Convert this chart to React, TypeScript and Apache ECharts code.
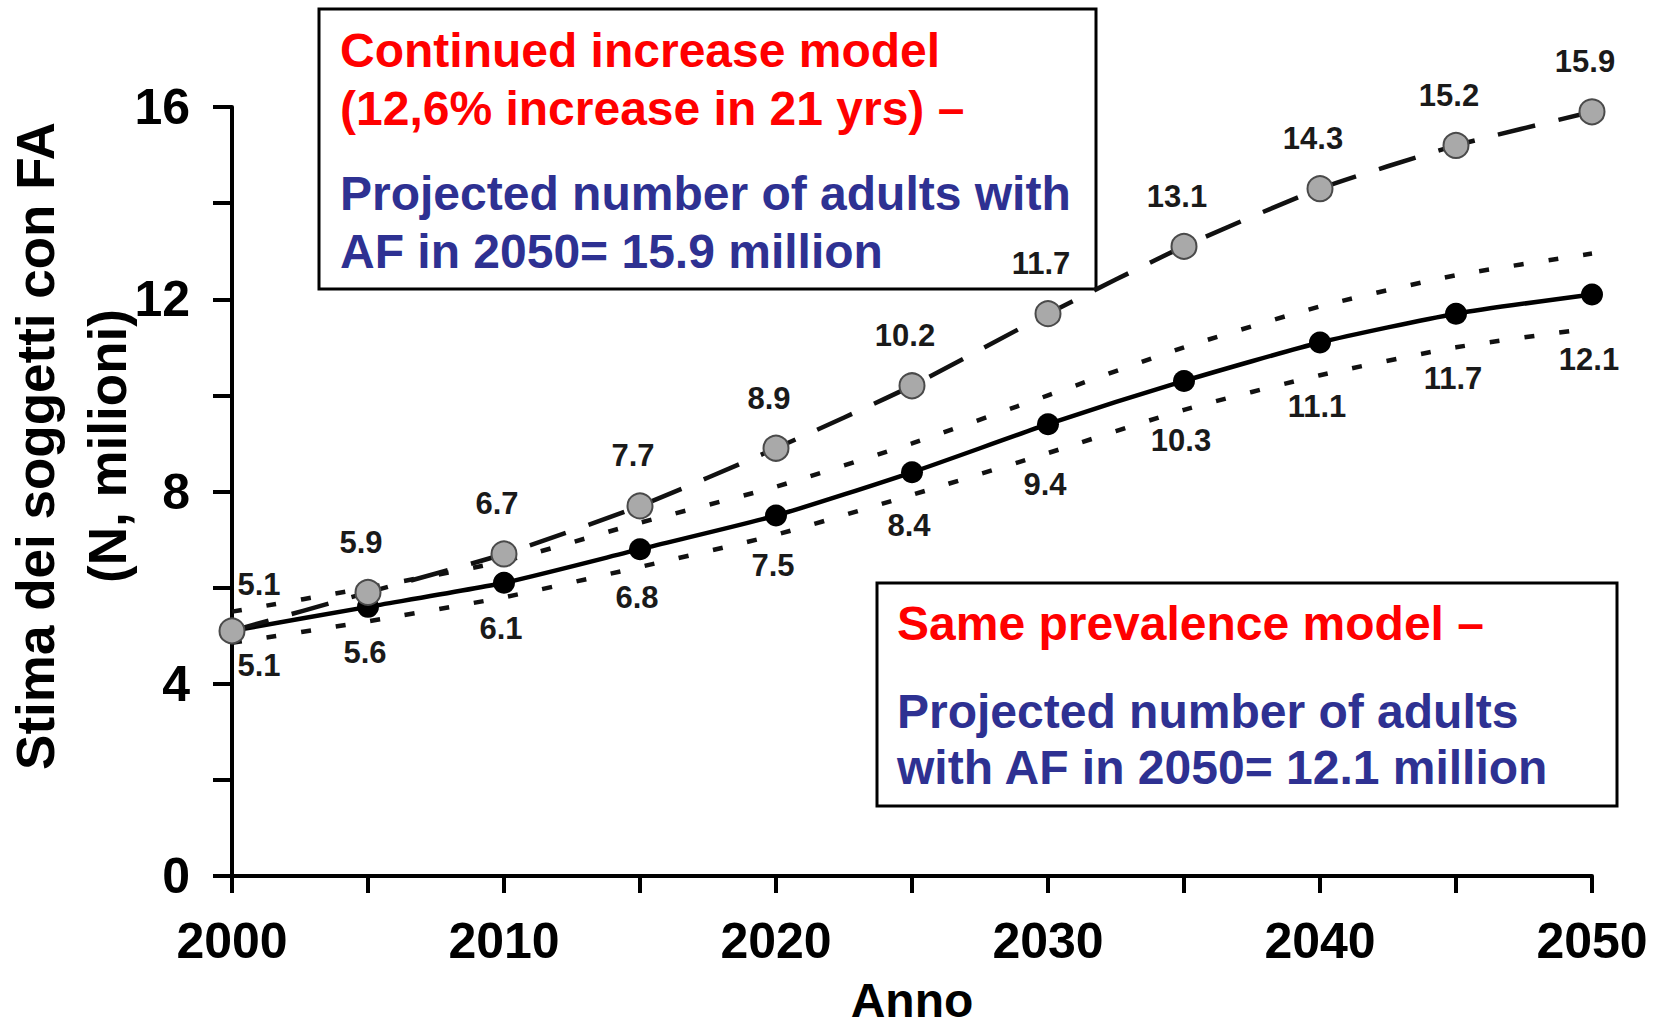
import React, { useEffect, useRef } from "react";
import * as echarts from "echarts";

const years = [2000, 2005, 2010, 2015, 2020, 2025, 2030, 2035, 2040, 2045, 2050];
const continuedIncrease = [5.1, 5.9, 6.7, 7.7, 8.9, 10.2, 11.7, 13.1, 14.3, 15.2, 15.9];
const samePrevalence = [5.1, 5.6, 6.1, 6.8, 7.5, 8.4, 9.4, 10.3, 11.1, 11.7, 12.1];
const upperBound = [5.5, 6.0, 6.55, 7.35, 8.1, 9.0, 10.0, 11.0, 11.85, 12.5, 12.95];
const lowerBound = [4.85, 5.3, 5.8, 6.43, 7.1, 7.93, 8.8, 9.7, 10.42, 11.0, 11.4];
const yTickLabels = [0, 4, 8, 12, 16];
const xTickLabels = [2000, 2010, 2020, 2030, 2040, 2050];

const box1Red = ["Continued increase model", "(12,6% increase in 21 yrs) \u2013"];
const box1Blue = ["Projected number of adults with", "AF in 2050= 15.9 million"];
const box2Red = ["Same prevalence model \u2013"];
const box2Blue = ["Projected number of adults", "with AF in 2050= 12.1 million"];

const FONT = '"Liberation Sans", Arial, sans-serif';
const RED = "#FF0000";
const BLUE = "#2E3192";

export default function App() {
  const ref = useRef<HTMLDivElement>(null);

  useEffect(() => {
    if (!ref.current) return;
    const chart = echarts.init(ref.current, undefined, { renderer: "svg" });

    const pairs = (arr: number[]) => years.map((y, i) => [y, arr[i]]);

    const textLine = (text: string, x: number, y: number, color: string) => ({
      type: "text",
      x,
      y,
      z: 1,
      style: {
        text,
        fill: color,
        font: `bold 48px ${FONT}`,
        align: "left",
        verticalAlign: "middle",
      },
    });

    const option: any = {
      animation: false,
      backgroundColor: "#ffffff",
      grid: {
        left: 232,
        right: 76,
        top: 107,
        bottom: 151,
        containLabel: false,
        outerBoundsMode: "none",
      },
      xAxis: {
        type: "value",
        min: 2000,
        max: 2050,
        interval: 5,
        name: "Anno",
        nameLocation: "middle",
        nameGap: 104,
        nameTextStyle: {
          fontFamily: FONT,
          fontWeight: "bold",
          fontSize: 48,
          lineHeight: 40,
          color: "#000",
        },
        axisLine: { show: true, lineStyle: { color: "#000", width: 4 } },
        axisTick: { show: true, length: 17, lineStyle: { color: "#000", width: 4 } },
        splitLine: { show: false },
        axisLabel: {
          margin: 40,
          fontFamily: FONT,
          fontWeight: "bold",
          fontSize: 50,
          color: "#000",
          formatter: (v: number) => (xTickLabels.includes(v) ? String(v) : ""),
        },
      },
      yAxis: {
        type: "value",
        min: 0,
        max: 16,
        interval: 2,
        axisLine: { show: true, lineStyle: { color: "#000", width: 4 } },
        axisTick: { show: true, length: 19, lineStyle: { color: "#000", width: 4 } },
        splitLine: { show: false },
        axisLabel: {
          margin: 42,
          fontFamily: FONT,
          fontWeight: "bold",
          fontSize: 50,
          color: "#000",
          formatter: (v: number) => (yTickLabels.includes(v) ? String(v) : ""),
        },
      },
      graphic: [
        {
          type: "text",
          x: 71,
          y: 446,
          rotation: Math.PI / 2,
          style: {
            text: "Stima dei soggetti con FA\n(N, milioni)",
            fill: "#000",
            font: `bold 53px ${FONT}`,
            align: "center",
            verticalAlign: "middle",
            lineHeight: 72,
          },
        },
        {
          type: "rect",
          z: 0,
          shape: { x: 319, y: 9, width: 777, height: 280 },
          style: { fill: "#fff", stroke: "#000", lineWidth: 3 },
        },
        {
          type: "rect",
          z: 0,
          shape: { x: 877, y: 583, width: 740, height: 223 },
          style: { fill: "#fff", stroke: "#000", lineWidth: 3 },
        },
        textLine(box1Red[0], 340, 50, RED),
        textLine(box1Red[1], 340, 108, RED),
        textLine(box1Blue[0], 340, 193, BLUE),
        textLine(box1Blue[1], 340, 251, BLUE),
        textLine(box2Red[0], 897, 623, RED),
        textLine(box2Blue[0], 897, 711, BLUE),
        textLine(box2Blue[1], 897, 767, BLUE),
      ],
      series: [
        {
          name: "Upper bound",
          type: "line",
          data: pairs(upperBound),
          smooth: 0.2,
          showSymbol: false,
          symbol: "none",
          lineStyle: { color: "#111", width: 4.5, type: [10, 25] },
          z: 2,
        },
        {
          name: "Lower bound",
          type: "line",
          data: pairs(lowerBound).map((d, i) =>
            i === 0 ? { value: d, label: { offset: [27, -8] } } : { value: d }
          ),
          smooth: 0.2,
          symbol: "circle",
          symbolSize: 1,
          itemStyle: { color: "rgba(0,0,0,0)" },
          lineStyle: { color: "#111", width: 4.5, type: [10, 25] },
          label: {
            show: true,
            position: "bottom",
            distance: 15,
            offset: [-3, 0],
            color: "#1a1a1a",
            fontFamily: FONT,
            fontWeight: "bold",
            fontSize: 31,
            formatter: (p: any) => samePrevalence[p.dataIndex].toFixed(1),
          },
          z: 2,
        },
        {
          name: "Same prevalence model",
          type: "line",
          data: pairs(samePrevalence),
          smooth: 0.2,
          symbol: "circle",
          symbolSize: 22,
          itemStyle: { color: "#000" },
          lineStyle: { color: "#000", width: 4.5 },
          z: 3,
        },
        {
          name: "Continued increase model",
          type: "line",
          data: pairs(continuedIncrease).map((d, i) =>
            i === 0 ? { value: d, label: { offset: [27, 4] } } : { value: d }
          ),
          smooth: 0.2,
          symbol: "circle",
          symbolSize: 25,
          itemStyle: { color: "#a9a9a9", borderColor: "#4a4a4a", borderWidth: 2 },
          lineStyle: { color: "#111", width: 4.5, type: [38, 24] },
          label: {
            show: true,
            position: "top",
            distance: 21,
            offset: [-7, 0],
            color: "#1a1a1a",
            fontFamily: FONT,
            fontWeight: "bold",
            fontSize: 31,
            formatter: (p: any) => p.value[1].toFixed(1),
          },
          z: 4,
        },
      ],
    };

    chart.setOption(option);
    return () => chart.dispose();
  }, []);

  return (
    <div
      ref={ref}
      style={{ position: "fixed", left: 0, top: 0, width: 1668, height: 1027, background: "#fff" }}
    />
  );
}
